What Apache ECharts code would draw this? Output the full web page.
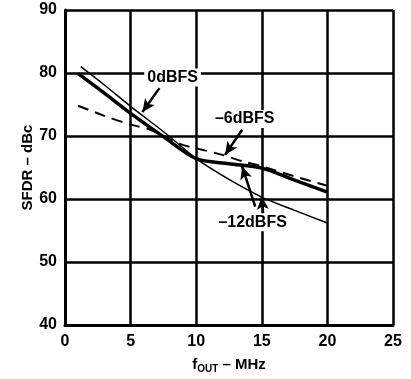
<!DOCTYPE html>
<html>
<head>
<meta charset="utf-8">
<script src="https://cdn.jsdelivr.net/npm/echarts@6/dist/echarts.min.js"></script>
<style>
  html, body { margin: 0; padding: 0; background: #fff; }
  #chart { width: 411px; height: 379px; }
</style>
</head>
<body>
<div id="chart"></div>
<script>
// SFDR vs output frequency, three input levels
const xTicks = [0, 5, 10, 15, 20, 25]
const yTicks = [40, 50, 60, 70, 80, 90]

const fullScale = [[1.2, 81], [3, 78.1], [5, 74.7], [7.8, 70.2], [10, 66.4], [12.5, 63.1], [15, 60.3], [17.5, 58.2], [20, 56.2]]
const sixDown = [[1, 74.8], [3, 73.2], [5, 71.8], [6.5, 71], [8.8, 68.7], [10.3, 67.9], [12, 67], [13.5, 66], [15, 65.2], [17.5, 63.6], [20, 62.1]]
const twelveDown = [[1, 79.9], [3, 76.8], [5, 73.6], [7.5, 69.9], [10, 66.4], [12.5, 65.6], [15, 64.9], [17.5, 63], [20, 61.1]]

const labelFont = { fontFamily: 'Liberation Sans', fontWeight: 'bold', fontSize: 16, color: '#000' }

const chart = echarts.init(document.getElementById('chart'))

chart.setOption({
  animation: false,
  backgroundColor: '#fff',
  grid: { left: 65, right: 18, top: 10, bottom: 46 },
  xAxis: {
    type: 'value',
    min: xTicks[0],
    max: xTicks[xTicks.length - 1],
    interval: 5,
    name: 'f{sub|OUT} – MHz',
    nameLocation: 'middle',
    nameGap: 31,
    nameTextStyle: {
      fontFamily: 'Liberation Sans', fontWeight: 'bold', fontSize: 15, color: '#000',
      rich: { sub: { fontFamily: 'Liberation Sans', fontWeight: 'bold', fontSize: 10, color: '#000', verticalAlign: 'bottom', padding: [8, 0, 0, 0] } }
    },
    axisLine: { lineStyle: { color: '#000', width: 3 } },
    axisTick: { show: false },
    axisLabel: Object.assign({ margin: 9 }, labelFont),
    splitLine: { lineStyle: { color: '#000', width: 2.5 } }
  },
  yAxis: {
    type: 'value',
    min: yTicks[0],
    max: yTicks[yTicks.length - 1],
    interval: 10,
    name: 'SFDR – dBc',
    nameLocation: 'middle',
    nameGap: 30,
    nameMoveOverlap: false,
    nameTextStyle: { fontFamily: 'Liberation Sans', fontWeight: 'bold', fontSize: 15, color: '#000' },
    axisLine: { show: true, lineStyle: { color: '#000', width: 3 } },
    axisTick: { show: false },
    axisLabel: Object.assign({ margin: 8 }, labelFont),
    splitLine: { lineStyle: { color: '#000', width: 2.5 } }
  },
  series: [
    {
      name: '0dBFS',
      type: 'line',
      data: fullScale,
      smooth: 0.3,
      symbol: 'none',
      lineStyle: { color: '#000', width: 1.5 },
      z: 3
    },
    {
      name: '-6dBFS',
      type: 'line',
      data: sixDown,
      smooth: 0.3,
      symbol: 'none',
      lineStyle: { color: '#000', width: 2, type: [11, 7] },
      z: 3
    },
    {
      name: '-12dBFS',
      type: 'line',
      data: twelveDown,
      smooth: 0.3,
      symbol: 'none',
      lineStyle: { color: '#000', width: 3.5 },
      z: 4,
      markLine: {
        silent: true,
        symbol: ['none', 'arrow'],
        symbolSize: [9, 13],
        label: { show: false },
        lineStyle: { color: '#000', width: 2.5, type: 'solid' },
        data: [
          [{ coord: [7.2, 77.6] }, { coord: [5.9, 73.8] }],
          [{ coord: [13.5, 71] }, { coord: [12.2, 67] }],
          [{ coord: [14.5, 58.8] }, { coord: [13.5, 65.2] }],
          [{ coord: [15.1, 57.8] }, { coord: [15, 60.4] }]
        ]
      },
      markPoint: {
        silent: true,
        symbol: 'rect',
        symbolSize: 0,
        label: Object.assign({
          show: true,
          position: 'inside',
          backgroundColor: '#fff',
          padding: [1, 3],
          formatter: p => p.name
        }, labelFont),
        data: [
          { name: '0dBFS', coord: [8.2, 79.3] },
          { name: '–6dBFS', coord: [13.7, 72.7] },
          { name: '–12dBFS', coord: [14.3, 56.3] }
        ]
      }
    }
  ]
})
</script>
</body>
</html>
